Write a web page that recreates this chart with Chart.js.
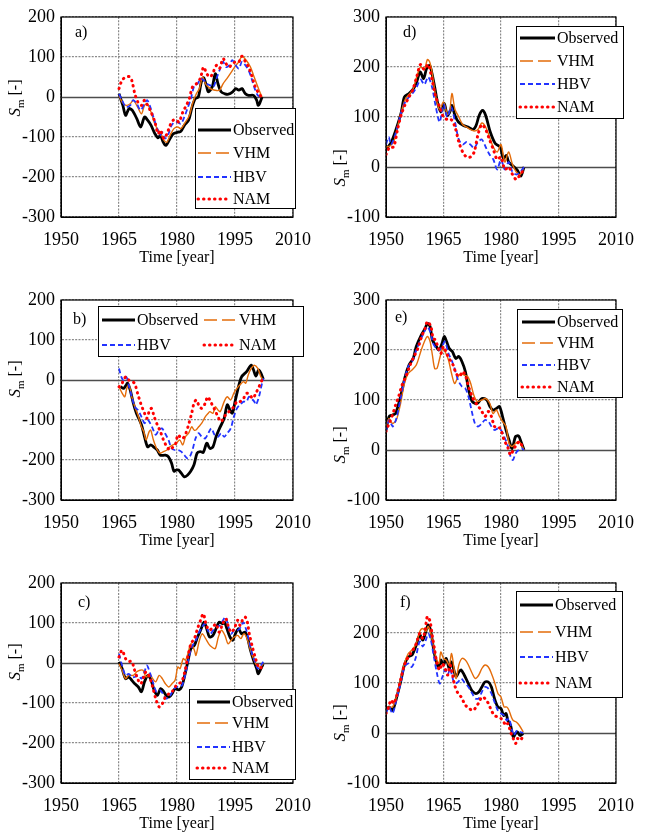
<!DOCTYPE html>
<html>
<head>
<meta charset="utf-8">
<script src="https://cdn.jsdelivr.net/npm/chart.js@4.4.0/dist/chart.umd.min.js"></script>
<style>
  html, body { margin: 0; padding: 0; background: #fff; overflow: hidden; }
  .panel { position: absolute; width: 323px; height: 283px; }
</style>
</head>
<body>
<div class="panel" style="left:0;top:0"><canvas id="pa"></canvas></div>
<div class="panel" style="left:323px;top:0"><canvas id="pd"></canvas></div>
<div class="panel" style="left:0;top:283px"><canvas id="pb"></canvas></div>
<div class="panel" style="left:323px;top:283px"><canvas id="pe"></canvas></div>
<div class="panel" style="left:0;top:566px"><canvas id="pc"></canvas></div>
<div class="panel" style="left:323px;top:566px"><canvas id="pf"></canvas></div>
<script>
// tick values
const yearTicks = [1950, 1965, 1980, 1995, 2010];
const yTicksLeft = [-300, -200, -100, 0, 100, 200];
const yTicksRight = [-100, 0, 100, 200, 300];
const seriesNames = ['Observed', 'VHM', 'HBV', 'NAM'];

// panel a) [year, Sm]
const aObserved = [[1965,8],[1966,-21],[1966.7,-46],[1967.6,-29],[1968.4,-33],[1969.6,-54],[1970.6,-75],[1971.6,-50],[1972.4,-58],[1973.3,-71],[1974.3,-92],[1975.1,-102],[1975.7,-96],[1976.4,-112],[1977.1,-121],[1978.2,-104],[1979,-92],[1980.2,-88],[1981,-86],[1981.9,-71],[1983,-58],[1983.8,-29],[1984.7,-4],[1985.5,0],[1986.3,38],[1986.9,48],[1987.7,25],[1988.1,13],[1989.1,25],[1989.9,58],[1990.6,33],[1991.4,13],[1992.4,8],[1993.3,7],[1994.4,13],[1995.2,21],[1996,17],[1996.8,21],[1997.7,8],[1998.5,4],[1999.8,4],[2000.6,-8],[2001,-21],[2001.5,-13],[2002,0]];
const aVHM = [[1965,4],[1965.8,-13],[1966.8,-21],[1967.9,-17],[1968.7,-8],[1969.8,-25],[1970.8,-42],[1971.6,-21],[1972.3,-17],[1973.3,-38],[1974.1,-63],[1975.1,-83],[1975.7,-88],[1976.6,-108],[1977.4,-113],[1978.2,-96],[1979.2,-79],[1980.2,-75],[1981,-79],[1981.9,-67],[1983.2,-46],[1984,-17],[1985,8],[1985.8,21],[1986.6,50],[1987.4,33],[1988.6,21],[1989.8,17],[1991,17],[1991.9,33],[1992.9,46],[1994.1,63],[1995.2,79],[1996,88],[1996.8,102],[1997.9,92],[1999,75],[1999.8,54],[2000.6,33],[2001.4,13],[2002,0]];
const aHBV = [[1965,8],[1965.8,-8],[1966.8,-25],[1967.9,-21],[1968.7,-8],[1969.6,-17],[1970.6,-33],[1971.6,-17],[1972.3,-8],[1973.1,-25],[1973.9,-50],[1974.9,-79],[1975.6,-96],[1976.2,-88],[1976.9,-104],[1977.8,-92],[1978.6,-71],[1979.4,-63],[1980.2,-63],[1981,-67],[1981.9,-50],[1982.7,-29],[1983.6,-4],[1984.5,29],[1985.3,33],[1986.1,46],[1986.9,42],[1987.7,33],[1988.6,29],[1989.4,25],[1990.2,46],[1991,67],[1991.9,88],[1992.7,75],[1993.5,79],[1994.3,92],[1995.2,79],[1996,71],[1996.8,88],[1997.7,79],[1998.5,67],[1999.3,46],[2000.1,21],[2000.9,4],[2001.8,0]];
const aNAM = [[1965,21],[1965.8,42],[1966.8,50],[1967.9,50],[1968.4,38],[1969.1,8],[1969.9,-13],[1970.8,-21],[1971.6,-8],[1972.4,-21],[1973.3,-38],[1974.3,-63],[1975.1,-92],[1975.7,-83],[1976.6,-104],[1977.4,-92],[1978.2,-71],[1979,-58],[1979.9,-58],[1980.5,-63],[1981.5,-38],[1982.4,-21],[1983.2,-4],[1984,25],[1985,33],[1986,46],[1986.9,75],[1987.7,58],[1988.6,50],[1989.4,63],[1990.2,79],[1991,71],[1991.9,96],[1992.7,83],[1993.5,75],[1994.3,83],[1995.2,88],[1996,88],[1996.8,102],[1997.7,88],[1998.5,75],[1999.3,54],[2000.1,29],[2000.9,13],[2001.8,0]];

// panel b)
const bObserved = [[1965.4,-17],[1966.2,-21],[1966.9,-12],[1967.2,-8],[1967.9,-25],[1968.7,-58],[1969.5,-83],[1970.8,-112],[1971.6,-142],[1972.4,-167],[1973.2,-162],[1973.9,-167],[1974.9,-175],[1975.7,-188],[1977,-188],[1977.8,-192],[1978.6,-208],[1979.2,-228],[1979.8,-225],[1980.4,-225],[1981.1,-233],[1981.9,-242],[1982.7,-238],[1983.5,-229],[1984.4,-212],[1985.2,-183],[1986,-179],[1986.8,-181],[1987.7,-158],[1988.5,-171],[1989.3,-167],[1990.1,-142],[1991,-121],[1992.2,-96],[1993,-62],[1993.7,-75],[1994.3,-83],[1995.1,-50],[1995.9,-17],[1996.7,8],[1998,21],[1999.2,37],[1999.8,25],[2000.4,10],[2001.1,25],[2001.7,17],[2002.3,2]];
const bVHM = [[1965,-17],[1965.8,-33],[1966.5,-42],[1967,-21],[1967.6,-12],[1968.3,-42],[1969.1,-67],[1969.9,-88],[1970.8,-117],[1971.4,-129],[1972,-150],[1972.8,-129],[1973.2,-125],[1973.9,-150],[1974.9,-175],[1975.7,-183],[1976.5,-179],[1977.4,-175],[1978.2,-167],[1979,-162],[1979.8,-158],[1980.7,-150],[1981.5,-162],[1982.2,-142],[1983,-133],[1983.8,-117],[1984.4,-125],[1984.9,-125],[1985.6,-117],[1986.4,-108],[1987.3,-92],[1988.1,-83],[1988.5,-79],[1989.3,-83],[1989.9,-67],[1990.6,-75],[1991.2,-79],[1992.2,-54],[1993,-42],[1993.9,-50],[1994.7,-33],[1995.5,-21],[1996.3,-12],[1997.2,-4],[1997.8,-8],[1998.4,12],[1999.2,29],[2000,37],[2000.9,29],[2001.7,8],[2002.3,0]];
const bHBV = [[1965,29],[1965.6,8],[1966.2,0],[1966.9,8],[1967.5,-12],[1968.3,-42],[1969.1,-67],[1969.9,-75],[1970.8,-92],[1971.6,-108],[1972.3,-100],[1972.8,-104],[1973.7,-121],[1974.5,-137],[1975.3,-125],[1976.1,-121],[1976.9,-133],[1977.8,-150],[1978.6,-171],[1979.4,-175],[1980.3,-175],[1981.1,-179],[1981.9,-188],[1982.7,-196],[1983.3,-192],[1984,-175],[1984.8,-146],[1985.6,-133],[1986.4,-142],[1987.3,-146],[1988.1,-133],[1988.9,-121],[1989.7,-137],[1990.6,-142],[1991.4,-133],[1992.2,-142],[1993,-133],[1993.9,-121],[1994.7,-92],[1995.5,-71],[1996.3,-62],[1997.2,-54],[1998,-54],[1998.6,-42],[1999.2,-46],[2000,-54],[2000.4,-62],[2001.2,-42],[2002,-8],[2002.4,4]];
const bNAM = [[1965,-17],[1965.6,-12],[1966.2,0],[1966.8,8],[1967.5,0],[1968.3,-4],[1969,-8],[1969.8,-33],[1970.6,-58],[1971.6,-83],[1972.2,-96],[1972.8,-79],[1973.4,-71],[1974.1,-92],[1974.9,-112],[1975.7,-129],[1976.5,-150],[1977.4,-167],[1978.2,-175],[1979,-167],[1979.7,-158],[1980.2,-137],[1980.8,-142],[1981.5,-146],[1982.3,-133],[1983.1,-108],[1983.8,-83],[1984.4,-58],[1985,-50],[1985.6,-62],[1986.4,-71],[1987.3,-58],[1987.9,-42],[1988.5,-50],[1989.1,-62],[1989.8,-75],[1990.6,-92],[1991.4,-104],[1992.2,-92],[1993,-83],[1993.9,-75],[1994.7,-67],[1995.5,-54],[1996.3,-54],[1997.2,-46],[1998,-33],[1998.8,-37],[1999.6,-46],[2000.4,-33],[2001.2,-17],[2002,0]];

// panel c)
const cObserved = [[1965,3],[1965.8,-14],[1966.7,-39],[1967.5,-35],[1968.3,-43],[1969.1,-52],[1970,-60],[1970.8,-72],[1971.6,-47],[1972.5,-31],[1973.3,-43],[1974.1,-68],[1974.9,-81],[1975.8,-64],[1976.6,-72],[1977.2,-81],[1978,-85],[1978.7,-77],[1979.5,-64],[1980.5,-67],[1981.2,-60],[1982,-31],[1982.8,3],[1983.6,36],[1984.5,44],[1985.3,65],[1986.1,82],[1987,102],[1987.8,82],[1988.4,65],[1989.3,69],[1990.1,86],[1990.9,102],[1991.8,98],[1992.3,102],[1992.9,86],[1993.7,65],[1994.4,57],[1995.1,73],[1995.9,86],[1996.7,73],[1997.6,77],[1998.2,65],[1999,32],[1999.8,7],[2000.6,-14],[2001,-27],[2001.7,-14],[2002.3,-2]];
const cVHM = [[1965,-2],[1965.8,-18],[1966.7,-39],[1967.5,-31],[1968.7,-31],[1969.6,-22],[1970.4,-18],[1971.2,-18],[1972,-35],[1972.9,-27],[1973.7,-39],[1974.5,-47],[1975.4,-31],[1976.2,-39],[1977,-52],[1977.9,-60],[1978.7,-52],[1979.5,-43],[1980.2,-10],[1980.8,-14],[1981.6,11],[1982.2,7],[1982.8,23],[1983.6,48],[1984.5,32],[1984.9,19],[1985.7,53],[1986.5,73],[1987.4,61],[1988.2,48],[1989,40],[1989.9,36],[1990.7,65],[1991.5,82],[1992.4,69],[1993.2,48],[1994,57],[1994.8,65],[1995.7,69],[1996.5,61],[1997.3,73],[1998.1,61],[1999,32],[1999.8,11],[2000.6,-6],[2001.5,-10],[2002.3,-2]];
const cHBV = [[1965,23],[1965.8,-6],[1966.7,-31],[1967.5,-27],[1968.3,-35],[1969.1,-35],[1970,-31],[1970.8,-39],[1971.6,-22],[1972.2,-6],[1973.1,-27],[1973.9,-52],[1974.7,-72],[1975.6,-68],[1976.4,-77],[1977.2,-89],[1978,-85],[1978.8,-72],[1979.7,-60],[1980.5,-60],[1981.3,-56],[1982.2,-27],[1983,11],[1983.8,40],[1984.7,53],[1985.5,73],[1986.3,86],[1987.1,98],[1987.8,86],[1988.6,73],[1989.4,82],[1990.3,90],[1991.1,94],[1991.9,107],[1992.6,115],[1993.2,94],[1994,73],[1994.8,82],[1995.7,82],[1996.5,90],[1997.1,102],[1997.8,86],[1998.6,57],[1999.4,23],[2000.2,3],[2000.9,-14],[2001.7,-6],[2002.3,3]];
const cNAM = [[1965,15],[1965.8,32],[1966.7,11],[1967.5,4],[1968.3,4],[1968.9,-14],[1969.8,-39],[1970.6,-52],[1971.4,-35],[1972,-22],[1972.9,-35],[1973.7,-60],[1974.5,-89],[1975.4,-110],[1976.2,-102],[1977,-85],[1977.9,-77],[1978.7,-72],[1979.5,-60],[1980.3,-52],[1981.2,-47],[1982,-22],[1982.8,15],[1983.6,48],[1984.5,61],[1985.3,86],[1986.1,107],[1986.8,123],[1987.6,94],[1988.4,82],[1989.3,90],[1990.1,98],[1990.9,77],[1991.8,98],[1992.6,111],[1993.2,94],[1994,77],[1994.8,86],[1995.7,107],[1996.3,94],[1996.9,107],[1997.6,115],[1998.2,102],[1998.7,73],[1999.5,40],[2000.2,15],[2000.9,-6],[2001.5,-14],[2002.3,-2]];

// panel d)
const dObserved = [[1950.2,37],[1951.4,50],[1952.7,77],[1954,110],[1954.8,140],[1956,147],[1957.2,157],[1958,170],[1958.9,190],[1959.8,177],[1960.6,197],[1961.4,203],[1962,187],[1962.7,160],[1963.5,127],[1964.3,110],[1965.2,127],[1966,103],[1966.8,113],[1967.2,123],[1968,103],[1968.9,90],[1970.2,83],[1971.4,80],[1972.7,75],[1973.5,83],[1974.3,103],[1975.2,113],[1976,103],[1977.2,70],[1978.5,47],[1979.8,40],[1980.6,17],[1981.4,23],[1982,10],[1983,3],[1984.3,-7],[1985.2,-18],[1986,0]];
const dVHM = [[1950,40],[1951,42],[1952,50],[1953,80],[1954,110],[1955,135],[1956,145],[1957,155],[1958,180],[1959,200],[1960,195],[1960.8,215],[1961.4,210],[1962,190],[1963,140],[1964,115],[1965,130],[1966,105],[1966.6,110],[1967.2,147],[1968,115],[1969,100],[1970,85],[1971,80],[1972,75],[1973,72],[1974,75],[1975,88],[1976,80],[1977,60],[1978,40],[1979,30],[1980,45],[1981,10],[1982,30],[1983,5],[1984,-10],[1985,-15],[1986,0]];
const dHBV = [[1950,45],[1950.7,60],[1951.3,45],[1952,55],[1953,80],[1954,110],[1955,130],[1956,140],[1957,148],[1958,160],[1959,175],[1960,165],[1961,180],[1962,160],[1963,120],[1964,90],[1965,125],[1966,100],[1967,120],[1968,90],[1969,55],[1970,45],[1971,50],[1972,45],[1973,38],[1974,50],[1975,55],[1976,40],[1977,25],[1978,15],[1979,-5],[1980,15],[1981,-5],[1982,10],[1983,-10],[1984,-15],[1985,-10],[1986,0]];
const dNAM = [[1950,25],[1951,40],[1952,40],[1953,75],[1954,105],[1955,125],[1956,140],[1957,155],[1958,180],[1959,205],[1960,195],[1961,205],[1962,175],[1963,140],[1964,120],[1965,100],[1966,95],[1967,95],[1968,80],[1969,50],[1970,30],[1971,20],[1972,20],[1973,30],[1974,65],[1975,85],[1976,75],[1977,55],[1978,35],[1979,15],[1980,20],[1981,-5],[1982,0],[1983,-15],[1984,-25],[1985,-15],[1986,-5]];

// panel e)
const eObserved = [[1950,40],[1950.8,67],[1951.7,70],[1952.5,73],[1953.8,107],[1955,147],[1956,170],[1957.1,183],[1957.9,207],[1959.2,230],[1960.2,243],[1960.8,253],[1961.5,247],[1962.1,220],[1962.9,210],[1963.8,200],[1964.6,213],[1965.2,227],[1965.8,217],[1966.5,203],[1967.3,197],[1968.2,183],[1969,187],[1969.8,177],[1970.7,157],[1971.5,123],[1972.5,97],[1973.8,93],[1975,103],[1976.3,100],[1977.1,87],[1977.9,80],[1978.8,83],[1979.6,87],[1980.4,67],[1981.3,40],[1982.1,20],[1982.9,3],[1983.8,27],[1984.6,28],[1985.2,17],[1986,0]];
const eVHM = [[1950,47],[1950.8,63],[1951.7,53],[1952.7,60],[1953.8,93],[1954.8,133],[1955.8,153],[1956.8,160],[1957.9,170],[1959.2,200],[1960.2,220],[1960.8,227],[1961.5,217],[1962.1,190],[1962.7,163],[1963.3,163],[1964,183],[1964.8,203],[1965.4,197],[1966.3,180],[1967.1,153],[1967.9,133],[1968.8,147],[1969.6,153],[1970.4,150],[1971.3,147],[1972.1,133],[1972.9,110],[1973.8,97],[1975,100],[1976,103],[1977.1,93],[1977.9,73],[1978.8,80],[1979.6,67],[1980.4,57],[1981.3,47],[1982.1,13],[1982.9,7],[1983.8,13],[1984.6,17],[1985.4,10],[1986,0]];
const eHBV = [[1950,37],[1950.8,60],[1951.5,50],[1951.8,47],[1952.7,63],[1953.8,103],[1954.8,140],[1955.8,167],[1956.8,177],[1957.9,200],[1959.2,223],[1960.2,240],[1960.8,247],[1961.7,233],[1962.3,213],[1963.2,203],[1964,200],[1964.8,210],[1965.4,217],[1966.3,193],[1967.1,180],[1967.9,163],[1968.8,140],[1969.8,127],[1970.7,123],[1971.5,107],[1972.3,80],[1973.2,53],[1974,47],[1975,53],[1975.8,60],[1976.7,57],[1977.5,47],[1978.3,40],[1979.2,43],[1980,40],[1980.8,27],[1981.7,10],[1982.5,-13],[1983.1,-20],[1983.8,-7],[1984.6,0],[1985.4,3],[1986,0]];
const eNAM = [[1950,37],[1950.8,53],[1951.7,70],[1952.5,90],[1953.3,107],[1954.2,130],[1955.2,147],[1956.3,170],[1957.3,187],[1958.3,203],[1959.3,227],[1960.2,243],[1960.8,257],[1961.7,247],[1962.3,223],[1962.9,220],[1963.5,207],[1964.3,193],[1965,207],[1965.8,193],[1966.7,180],[1967.5,170],[1968.3,153],[1969.2,147],[1970,157],[1970.8,147],[1971.7,123],[1972.7,103],[1973.8,90],[1974.8,80],[1975.8,67],[1976.7,77],[1977.5,67],[1978.3,47],[1979.2,47],[1980,40],[1980.8,20],[1981.7,7],[1982.5,-10],[1983.2,0],[1984,10],[1984.8,17],[1985.4,10],[1986,3]];

// panel f)
const fObserved = [[1950,45],[1950.8,52],[1951.7,45],[1952.7,69],[1953.8,102],[1954.8,136],[1955.8,152],[1956.8,156],[1957.9,176],[1958.8,196],[1959.6,186],[1960.4,203],[1961,216],[1961.7,203],[1962.3,173],[1963,146],[1963.8,129],[1964.3,146],[1965,136],[1965.7,149],[1966.5,129],[1967.1,142],[1967.7,126],[1968.3,112],[1969,122],[1969.6,126],[1970.4,116],[1971.3,102],[1972.3,86],[1973.3,79],[1974.2,82],[1975,92],[1975.8,102],[1976.7,102],[1977.5,92],[1978.3,69],[1979.2,52],[1980,49],[1980.7,35],[1981.3,39],[1981.8,25],[1982.5,15],[1983.2,-8],[1983.8,-1],[1984.3,2],[1985,-5],[1985.8,-1]];
const fVHM = [[1950,45],[1950.8,52],[1951.7,52],[1952.7,72],[1953.8,106],[1954.8,139],[1955.8,159],[1956.8,166],[1957.9,179],[1958.8,203],[1959.6,209],[1960.4,203],[1961,213],[1961.7,199],[1962.3,176],[1963,152],[1963.8,139],[1964.3,162],[1965,149],[1965.7,146],[1966.5,136],[1967.1,159],[1967.7,132],[1968.3,109],[1969,136],[1969.8,149],[1970.7,146],[1971.5,136],[1972.5,119],[1973.3,109],[1974.2,116],[1975,129],[1975.8,136],[1976.7,132],[1977.5,119],[1978.3,102],[1979.2,79],[1980,72],[1980.8,52],[1981.5,52],[1982.1,45],[1982.7,32],[1983.2,25],[1984,22],[1984.8,15],[1985.8,2]];
const fHBV = [[1950,39],[1950.8,52],[1951.7,39],[1952.7,66],[1953.8,99],[1954.8,132],[1955.8,139],[1956.7,132],[1957.7,149],[1958.8,183],[1959.6,173],[1960.4,186],[1961,199],[1961.7,186],[1962.5,152],[1963.3,119],[1964,99],[1964.7,112],[1965.4,126],[1966.1,116],[1966.7,129],[1967.3,112],[1967.9,99],[1968.8,102],[1969.6,109],[1970.4,102],[1971.5,92],[1972.5,79],[1973.3,69],[1974.2,69],[1975,82],[1975.8,92],[1976.7,89],[1977.5,79],[1978.3,62],[1979.2,45],[1980,39],[1980.8,35],[1981.5,25],[1982.1,29],[1982.9,5],[1983.3,-5],[1984.2,5],[1985,2],[1985.8,0]];
const fNAM = [[1950,39],[1950.7,52],[1951.3,66],[1952,59],[1952.7,72],[1953.8,106],[1954.8,136],[1955.8,152],[1956.8,163],[1957.9,179],[1958.8,199],[1959.6,189],[1960.2,206],[1960.8,233],[1961.5,223],[1962.1,193],[1962.7,166],[1963.3,139],[1964,126],[1964.7,139],[1965.4,129],[1966.1,116],[1966.7,136],[1967.3,119],[1967.9,96],[1968.8,79],[1969.6,72],[1970.7,56],[1971.7,49],[1972.7,45],[1973.5,52],[1974.3,62],[1975,72],[1975.8,69],[1976.7,59],[1977.5,45],[1978.3,35],[1979.2,32],[1980,29],[1980.7,22],[1981.3,15],[1981.8,19],[1982.5,2],[1983.2,-11],[1983.8,-21],[1984.3,-11],[1985,-15],[1985.7,-7],[1986,-5]];

const FONT = '"Liberation Serif", "Times New Roman", serif';

// line look per series, in legend order
const looks = [
    {color: '#000000', width: 2.8, dash: [], legendDash: [], cap: 'butt'},
    {color: '#E46C0A', width: 1.4, dash: [], legendDash: [13, 5], cap: 'butt'},
    {color: '#2233FF', width: 1.8, dash: [5, 3], legendDash: [5, 3], cap: 'butt'},
    {color: '#FF0000', width: 3, dash: [0.5, 5], legendDash: [0.5, 5], cap: 'round'}
];

const panels = [
    {id: 'pa', tag: 'a)', tagAt: [75, 33], yTicks: yTicksLeft, series: [aObserved, aVHM, aHBV, aNAM],
     axisW: 61, padRight: 19, yLabelAt: [15, 98],
     legend: {box: [195, 108, 100, 100], len: 33, rows: [[198, 130], [198, 153], [198, 177], [198, 199]]}},
    {id: 'pd', tag: 'd)', tagAt: [80, 33], yTicks: yTicksRight, series: [dObserved, dVHM, dHBV, dNAM],
     axisW: 63, padRight: 19, yLabelAt: [17, 168],
     legend: {box: [193, 26, 107, 92], len: 35, rows: [[197, 38], [197, 61], [197, 84], [197, 107]]}},
    {id: 'pb', tag: 'b)', tagAt: [73, 37], yTicks: yTicksLeft, series: [bObserved, bVHM, bHBV, bNAM],
     axisW: 61, padRight: 19, yLabelAt: [15, 96],
     legend: {box: [98, 23, 205, 50], len: 33, rows: [[102, 37], [204, 37], [102, 62], [204, 62]]}},
    {id: 'pe', tag: 'e)', tagAt: [72, 35], yTicks: yTicksRight, series: [eObserved, eVHM, eHBV, eNAM],
     axisW: 63, padRight: 19, yLabelAt: [17, 162],
     legend: {box: [194, 26, 105, 88], len: 33, rows: [[199, 39], [199, 60], [199, 82], [199, 104]]}},
    {id: 'pc', tag: 'c)', tagAt: [78, 37], yTicks: yTicksLeft, series: [cObserved, cVHM, cHBV, cNAM],
     axisW: 61, padRight: 19, yLabelAt: [15, 96],
     legend: {box: [189, 123, 106, 90], len: 33, rows: [[197, 136], [197, 157], [197, 181], [197, 202]]}},
    {id: 'pf', tag: 'f)', tagAt: [77, 37], yTicks: yTicksRight, series: [fObserved, fVHM, fHBV, fNAM],
     axisW: 63, padRight: 19, yLabelAt: [17, 157],
     legend: {box: [193, 25, 106, 106], len: 33, rows: [[197, 39], [197, 66], [197, 91], [197, 117]]}}
];

// zero line, frame, legend box, panel tag and S_m label
function decor(p) {
    return {
        id: 'decor',
        beforeDatasetsDraw(chart) {
            const {ctx, chartArea: a, scales: {y}} = chart;
            const y0 = Math.round(y.getPixelForValue(0)) + 0.5;
            ctx.save();
            ctx.strokeStyle = '#4d4d4d';
            ctx.lineWidth = 1.5;
            ctx.beginPath();
            ctx.moveTo(a.left, y0);
            ctx.lineTo(a.right, y0);
            ctx.stroke();
            ctx.restore();
        },
        afterDatasetsDraw(chart) {
            const {ctx, chartArea: a} = chart;
            ctx.save();
            ctx.strokeStyle = '#000';
            ctx.lineWidth = 1.2;
            ctx.strokeRect(a.left, a.top, a.right - a.left, a.bottom - a.top);

            // legend
            const [bx, by, bw, bh] = p.legend.box;
            ctx.fillStyle = '#fff';
            ctx.fillRect(bx, by, bw, bh);
            ctx.lineWidth = 1;
            ctx.strokeRect(bx + 0.5, by + 0.5, bw, bh);
            ctx.font = '16px ' + FONT;
            ctx.textBaseline = 'middle';
            p.legend.rows.forEach(([lx, ly], i) => {
                const s = looks[i];
                ctx.save();
                ctx.strokeStyle = s.color;
                ctx.lineWidth = s.width;
                ctx.lineCap = s.cap;
                ctx.setLineDash(s.legendDash);
                ctx.beginPath();
                ctx.moveTo(lx, ly);
                ctx.lineTo(lx + p.legend.len, ly);
                ctx.stroke();
                ctx.restore();
                ctx.fillStyle = '#000';
                ctx.fillText(seriesNames[i], lx + p.legend.len + 2, ly + 1);
            });

            // panel tag
            ctx.fillStyle = '#000';
            ctx.fillText(p.tag, p.tagAt[0], p.tagAt[1]);

            // y title: S_m [-]
            ctx.translate(p.yLabelAt[0], p.yLabelAt[1]);
            ctx.rotate(-Math.PI / 2);
            ctx.textBaseline = 'alphabetic';
            ctx.font = 'italic 17px ' + FONT;
            const wS = ctx.measureText('S').width;
            ctx.font = '11px ' + FONT;
            const wm = ctx.measureText('m').width;
            ctx.font = '16px ' + FONT;
            const wr = ctx.measureText(' [-]').width;
            let x = -(wS + wm + wr) / 2;
            ctx.font = 'italic 17px ' + FONT;
            ctx.fillText('S', x, 5);
            ctx.font = '11px ' + FONT;
            ctx.fillText('m', x + wS, 9);
            ctx.font = '16px ' + FONT;
            ctx.fillText(' [-]', x + wS + wm, 5);
            ctx.restore();
        }
    };
}

function setTicks(values) {
    return scale => { scale.ticks = values.map(v => ({value: v})); };
}

panels.forEach(p => {
    new Chart(document.getElementById(p.id), {
        type: 'line',
        data: {
            datasets: p.series.map((pts, i) => ({
                label: seriesNames[i],
                data: pts.map(([x, y]) => ({x, y})),
                borderColor: looks[i].color,
                borderWidth: looks[i].width,
                borderDash: looks[i].dash,
                borderCapStyle: looks[i].cap,
                borderJoinStyle: 'round',
                pointRadius: 0,
                tension: 0.3,
                fill: false,
                order: 4 - i
            }))
        },
        options: {
            responsive: true,
            maintainAspectRatio: false,
            animation: false,
            events: [],
            layout: {padding: {top: 17, right: p.padRight, bottom: 0, left: 0}},
            plugins: {legend: {display: false}, tooltip: {enabled: false}},
            scales: {
                x: {
                    type: 'linear', min: 1950, max: 2010,
                    afterBuildTicks: setTicks(yearTicks),
                    afterFit: s => { s.height = 66; },
                    ticks: {color: '#000', font: {family: FONT, size: 18}, padding: 12, maxRotation: 0, autoSkip: false,
                            callback: v => String(v)},
                    grid: {color: '#8a8a8a', lineWidth: 1.2, drawTicks: false},
                    border: {display: true, color: '#000', width: 1, dash: [2, 1.3]},
                    title: {display: true, text: 'Time [year]', color: '#000', font: {family: FONT, size: 16},
                            padding: {top: 0, bottom: 16}}
                },
                y: {
                    min: p.yTicks[0], max: p.yTicks[p.yTicks.length - 1],
                    afterBuildTicks: setTicks(p.yTicks),
                    afterFit: s => { s.width = p.axisW; },
                    ticks: {color: '#000', font: {family: FONT, size: 18}, padding: 6, callback: v => String(v)},
                    grid: {color: c => (c.tick && c.tick.value === 0) ? 'rgba(0,0,0,0)' : '#8a8a8a', lineWidth: 1.2, drawTicks: false},
                    border: {display: true, color: '#000', width: 1, dash: [2, 1.3]}
                }
            }
        },
        plugins: [decor(p)]
    });
});
</script>
</body>
</html>
